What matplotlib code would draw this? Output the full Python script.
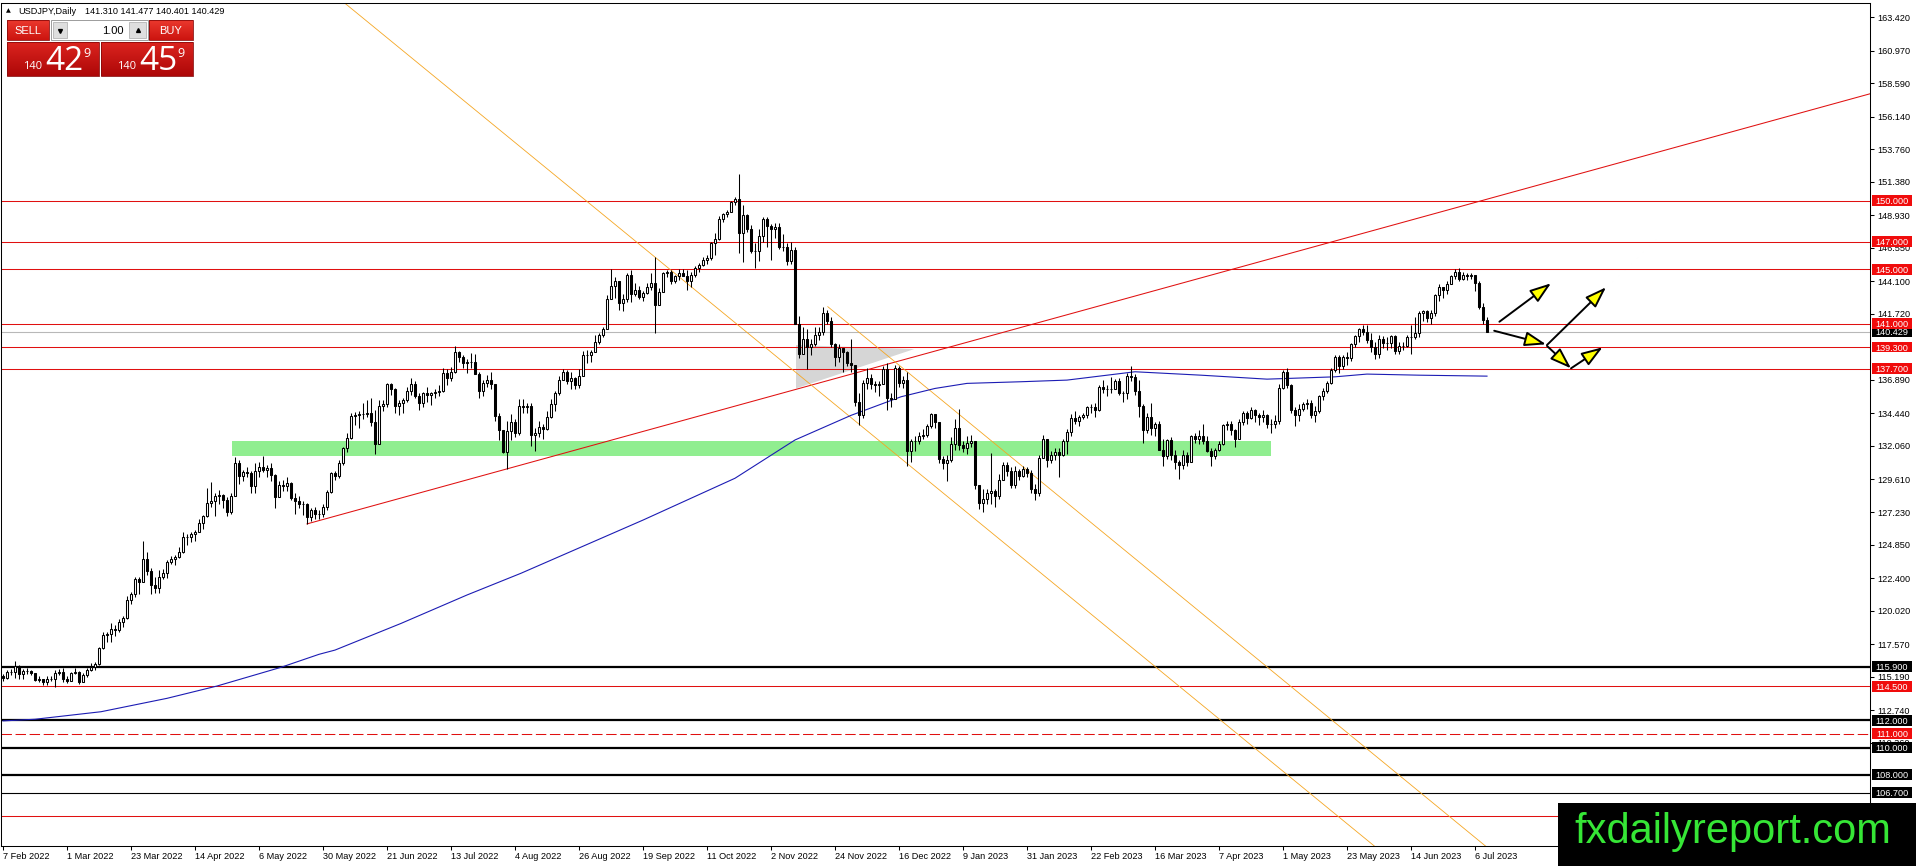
import matplotlib
matplotlib.use("Agg")
import matplotlib.pyplot as plt
from matplotlib.patches import Rectangle, Polygon
import numpy as np

plt.rcParams['font.family'] = ['Liberation Sans', 'DejaVu Sans']

# ---- data (USDJPY daily, one line per week) ----
symbol = "USDJPY,Daily"
first_open = 115.25
closes = [
    115.09, 115.55, 115.52, 116.00, 115.41,
    115.57, 115.58, 115.45, 114.92, 115.00,
    114.76, 115.00, 115.05, 115.48, 115.55,
    114.98, 114.90, 115.48, 115.54, 114.80,
    115.30, 115.65, 115.88, 116.10, 117.30,
    118.20, 118.30, 118.70, 118.60, 119.20,
    119.50, 120.80, 121.20, 122.35, 122.10,
    123.80, 122.90, 121.90, 121.70, 122.50,
    122.80, 123.60, 123.80, 123.95, 124.30,
    125.40, 125.40, 125.60, 125.80, 126.40,
    126.95, 127.90, 128.00, 128.40, 128.50,
    128.10, 127.20, 128.40, 130.80, 129.85,
    130.15, 130.10, 129.10, 130.20, 130.55,
    130.30, 130.45, 129.95, 128.30, 129.20,
    129.15, 129.35, 128.25, 128.00, 127.85,
    127.80, 126.90, 127.35, 127.10, 127.10,
    127.60, 128.70, 130.05, 129.85, 130.85,
    131.90, 132.65, 134.25, 134.35, 134.40,
    134.40, 134.45, 133.80, 132.20, 135.00,
    135.10, 136.60, 136.25, 134.95, 135.20,
    135.45, 136.10, 136.60, 135.70, 135.20,
    135.90, 135.80, 135.90, 136.00, 136.10,
    137.40, 137.00, 137.45, 138.95, 138.55,
    138.15, 138.20, 138.20, 137.35, 136.10,
    136.70, 136.90, 136.60, 134.25, 133.20,
    131.60, 133.15, 133.80, 133.00, 135.00,
    134.90, 135.00, 132.90, 133.00, 133.45,
    133.30, 134.20, 135.10, 135.90, 136.90,
    137.50, 136.80, 137.00, 136.55, 137.20,
    138.75, 138.75, 138.95, 139.65, 140.20,
    140.60, 142.80, 143.80, 144.10, 142.55,
    142.80, 144.60, 143.20, 143.50, 142.95,
    143.25, 143.70, 144.00, 142.40, 143.35,
    144.75, 144.80, 144.15, 144.50, 144.70,
    144.50, 144.10, 144.55, 145.10, 145.30,
    145.70, 145.80, 146.90, 147.20, 148.70,
    149.05, 149.20, 149.90, 150.15, 147.65,
    148.95, 147.95, 146.35, 146.30, 147.45,
    148.70, 148.15, 147.90, 148.10, 146.60,
    146.60, 145.60, 146.40, 141.00, 138.80,
    139.90, 139.30, 139.50, 140.20, 140.40,
    141.80, 141.20, 139.50, 138.60, 139.20,
    138.90, 138.10, 138.00, 135.30, 134.30,
    136.70, 137.00, 136.60, 136.50, 136.60,
    137.70, 135.60, 135.50, 137.75, 136.70,
    136.90, 131.70, 132.40, 132.40, 132.80,
    132.90, 133.50, 134.40, 133.80, 131.10,
    130.80, 131.00, 132.20, 133.40, 132.10,
    131.90, 132.30, 132.45, 129.20, 127.90,
    128.20, 128.60, 128.80, 128.40, 129.60,
    130.70, 130.20, 129.20, 130.20, 129.90,
    130.40, 130.10, 128.90, 128.60, 131.20,
    132.60, 131.00, 131.40, 131.60, 131.40,
    132.40, 133.10, 134.10, 133.90, 134.20,
    134.30, 134.90, 134.90, 134.70, 136.40,
    136.20, 136.20, 136.20, 136.80, 135.90,
    135.90, 137.20, 137.10, 136.10, 135.00,
    133.20, 134.20, 133.40, 133.70, 131.80,
    131.30, 132.50, 131.40, 130.90, 130.70,
    131.40, 130.90, 132.80, 132.60, 132.80,
    132.40, 131.70, 131.30, 131.80, 132.20,
    133.60, 133.70, 133.20, 132.60, 133.80,
    134.50, 134.10, 134.70, 134.30, 134.20,
    134.30, 133.70, 133.70, 133.90, 136.30,
    137.50, 136.50, 134.70, 134.30, 134.80,
    135.10, 135.20, 134.30, 134.60, 135.70,
    136.10, 136.70, 137.60, 138.60, 137.90,
    138.60, 138.50, 139.50, 140.10, 140.60,
    140.40, 139.80, 139.30, 138.80, 139.90,
    139.60, 139.60, 140.10, 139.00, 139.40,
    139.40, 140.00, 140.00, 140.30, 141.80,
    141.90, 141.40, 141.80, 143.10, 143.70,
    143.50, 143.90, 144.50, 144.80, 144.30,
    144.60, 144.50, 144.60, 144.00, 142.20,
    141.31, 140.429,
]
highs = [
    115.35, 115.65, 115.75, 116.34, 116.05,
    115.75, 115.80, 115.70, 115.40, 115.20,
    115.05, 115.25, 115.20, 115.70, 115.75,
    115.80, 115.20, 115.55, 115.80, 115.60,
    115.45, 115.80, 116.20, 116.25, 117.35,
    118.45, 118.45, 119.10, 119.00, 119.40,
    119.60, 121.05, 121.40, 122.45, 122.45,
    125.10, 124.30, 123.10, 122.45, 123.00,
    123.05, 123.70, 124.00, 124.05, 124.70,
    125.80, 125.60, 125.75, 125.90, 126.70,
    127.00, 129.00, 129.40, 128.60, 128.85,
    128.55, 128.30, 128.60, 131.25, 131.00,
    130.30, 130.50, 130.20, 130.80, 130.90,
    131.35, 130.70, 130.80, 130.00, 129.50,
    129.55, 129.80, 129.45, 128.60, 128.40,
    128.00, 127.90, 127.50, 127.60, 127.35,
    127.80, 128.85, 130.15, 130.25, 131.00,
    132.00, 133.00, 134.45, 134.55, 134.60,
    135.20, 135.45, 135.60, 134.70, 135.45,
    135.40, 136.70, 136.70, 136.30, 135.40,
    135.55, 136.40, 137.00, 136.80, 135.90,
    136.00, 136.40, 136.00, 136.20, 136.55,
    137.75, 137.70, 137.85, 139.38, 139.00,
    138.70, 138.40, 138.85, 138.80, 137.50,
    136.90, 137.25, 137.45, 136.60, 134.50,
    133.00, 133.90, 134.40, 134.00, 135.50,
    135.50, 135.20, 135.20, 133.40, 133.90,
    133.65, 134.60, 135.50, 136.10, 137.20,
    137.70, 137.60, 137.45, 137.10, 137.70,
    139.00, 139.05, 139.10, 140.20, 140.35,
    140.80, 143.10, 144.99, 144.40, 143.90,
    143.20, 144.75, 144.90, 144.00, 143.80,
    143.40, 144.00, 144.70, 145.90, 143.60,
    144.80, 144.90, 144.90, 144.60, 145.00,
    145.00, 144.90, 144.80, 145.20, 145.45,
    145.90, 146.00, 147.00, 147.65, 148.85,
    149.10, 149.30, 150.00, 150.30, 151.94,
    149.70, 149.00, 148.20, 146.90, 147.90,
    148.80, 148.80, 148.30, 148.40, 148.40,
    147.60, 146.90, 147.00, 146.60, 141.60,
    140.80, 140.60, 139.90, 140.80, 140.80,
    142.25, 142.00, 141.50, 139.60, 139.50,
    139.10, 139.00, 139.90, 138.00, 135.95,
    136.90, 137.80, 137.30, 136.80, 136.80,
    137.90, 138.10, 135.90, 138.00, 137.90,
    137.20, 137.50, 132.60, 132.80, 133.05,
    133.30, 133.70, 134.50, 134.40, 133.20,
    131.30, 131.40, 132.70, 134.00, 134.80,
    132.40, 132.80, 132.90, 132.45, 129.20,
    128.90, 128.90, 131.55, 128.95, 130.00,
    130.90, 130.90, 130.50, 130.60, 130.40,
    130.60, 130.50, 130.30, 129.30, 131.40,
    132.90, 132.60, 131.70, 131.90, 131.90,
    132.60, 133.30, 134.40, 134.60, 134.30,
    134.50, 135.00, 135.10, 135.20, 136.50,
    136.90, 136.50, 137.10, 136.95, 137.00,
    136.10, 137.40, 137.91, 137.30, 136.90,
    135.10, 134.50, 135.20, 133.80, 133.90,
    132.60, 132.60, 132.70, 131.80, 131.00,
    131.80, 131.60, 132.90, 133.00, 133.20,
    133.70, 132.80, 131.90, 131.90, 132.40,
    133.70, 133.90, 133.90, 133.30, 134.00,
    134.60, 134.60, 134.90, 134.80, 134.50,
    134.70, 134.40, 134.00, 134.30, 136.60,
    137.60, 137.77, 136.60, 134.90, 135.10,
    135.30, 135.50, 135.40, 135.00, 135.80,
    136.30, 136.80, 137.80, 138.70, 138.75,
    138.70, 138.90, 139.60, 140.20, 140.70,
    140.90, 140.93, 140.30, 139.70, 140.20,
    140.10, 140.00, 140.20, 140.20, 139.70,
    139.70, 140.20, 140.90, 141.50, 141.90,
    142.00, 142.00, 142.00, 143.20, 143.90,
    143.70, 144.10, 144.60, 145.00, 145.07,
    144.80, 144.70, 144.70, 144.60, 144.10,
    142.50, 141.477,
]
lows = [
    114.85, 115.05, 115.30, 115.10, 115.05,
    115.00, 115.35, 115.30, 114.85, 114.80,
    114.60, 114.55, 114.85, 114.41, 115.30,
    114.80, 114.70, 114.85, 115.40, 114.65,
    114.80, 115.15, 115.60, 115.70, 116.05,
    117.20, 117.70, 117.70, 118.15, 118.45,
    118.80, 119.40, 120.50, 121.00, 121.20,
    122.20, 122.60, 121.20, 121.30, 121.30,
    122.30, 122.40, 123.40, 123.35, 123.90,
    124.20, 124.80, 125.00, 125.10, 125.80,
    126.00, 126.90, 127.60, 126.95, 127.80,
    127.50, 126.95, 127.10, 128.40, 129.30,
    129.50, 129.80, 128.60, 128.65, 129.80,
    130.15, 129.80, 129.50, 127.50, 128.50,
    128.80, 128.80, 128.10, 127.05, 127.50,
    127.00, 126.36, 126.60, 126.70, 126.70,
    126.90, 127.40, 128.60, 129.55, 129.75,
    130.70, 131.60, 132.60, 133.60, 133.40,
    134.00, 134.20, 133.50, 131.50, 132.20,
    134.65, 134.90, 135.80, 134.50, 134.30,
    134.50, 135.30, 135.80, 135.60, 134.70,
    134.90, 135.30, 135.05, 135.60, 135.70,
    136.00, 136.50, 136.80, 137.40, 138.20,
    137.80, 137.40, 137.80, 137.30, 135.60,
    135.70, 136.40, 136.20, 133.90, 132.50,
    131.55, 130.40, 132.50, 132.70, 132.90,
    134.50, 134.50, 132.05, 131.70, 132.70,
    132.55, 133.20, 134.10, 134.65, 135.80,
    136.90, 136.60, 136.20, 136.25, 136.30,
    137.70, 138.10, 138.20, 138.90, 139.50,
    140.00, 140.60, 142.90, 142.90, 142.00,
    141.95, 142.60, 142.60, 143.00, 142.80,
    142.70, 143.20, 143.50, 140.35, 142.40,
    143.30, 144.40, 143.90, 144.00, 144.20,
    144.50, 143.50, 143.70, 144.40, 144.80,
    145.20, 145.40, 145.70, 146.00, 147.10,
    148.45, 148.80, 149.20, 149.70, 146.20,
    145.50, 147.70, 146.20, 145.10, 145.60,
    147.00, 146.60, 145.70, 147.30, 146.50,
    146.30, 145.30, 145.40, 140.95, 138.50,
    138.90, 137.70, 138.70, 139.40, 139.80,
    140.20, 140.95, 139.30, 137.90, 138.20,
    137.50, 137.90, 137.50, 135.00, 133.62,
    134.10, 136.20, 136.20, 136.00, 135.70,
    136.60, 134.70, 134.90, 135.50, 136.40,
    136.30, 130.58, 130.90, 131.70, 132.20,
    132.60, 132.70, 133.40, 133.40, 130.80,
    130.40, 129.50, 130.90, 131.80, 131.80,
    131.60, 131.50, 132.00, 128.90, 127.45,
    127.22, 127.80, 127.80, 127.60, 128.20,
    129.60, 129.90, 129.00, 129.00, 129.60,
    129.80, 129.80, 128.60, 128.10, 128.40,
    131.20, 130.50, 130.80, 131.00, 129.80,
    131.30, 131.50, 132.80, 133.70, 133.50,
    134.00, 134.10, 134.50, 134.20, 134.60,
    135.90, 135.70, 135.90, 136.20, 135.80,
    135.30, 135.50, 136.80, 135.80, 134.20,
    132.30, 133.00, 132.90, 132.80, 131.80,
    130.60, 131.10, 131.00, 130.40, 129.64,
    130.40, 130.60, 130.90, 132.30, 132.20,
    132.20, 131.60, 130.60, 131.10, 131.70,
    132.10, 133.20, 132.90, 132.00, 132.60,
    133.60, 133.70, 134.00, 133.80, 133.60,
    133.80, 133.40, 133.00, 133.40, 133.70,
    136.20, 136.30, 134.50, 133.50, 133.90,
    134.60, 134.80, 134.10, 133.80, 134.50,
    135.40, 135.90, 136.60, 137.50, 137.40,
    137.70, 138.00, 138.30, 139.30, 139.70,
    140.20, 139.60, 138.90, 138.40, 138.50,
    139.20, 139.10, 139.20, 138.80, 138.80,
    139.10, 139.30, 138.80, 139.90, 140.00,
    141.20, 141.10, 141.00, 141.60, 142.70,
    142.90, 143.20, 143.90, 144.30, 144.10,
    144.20, 144.20, 144.30, 143.40, 142.10,
    141.00, 140.401,
]

# 200-day moving average, read at points along the blue curve (bar index, price)
ma_bar = [0, 8, 24.5, 41, 53.5, 69.5, 79, 83, 99.5, 116, 129.5, 160, 183, 198,
          212, 224.5, 233, 241, 254.5, 266, 283, 299.5, 316, 333, 341, 354, 371]
ma_val = [111.95, 112.07, 112.62, 113.60, 114.50, 115.87, 116.82, 117.13, 119.08,
          121.16, 122.75, 126.64, 129.70, 132.50, 134.30, 135.66, 136.27, 136.64,
          136.76, 136.88, 137.49, 137.24, 136.95, 137.12, 137.32, 137.24, 137.17]

# horizontal levels
red_levels = [150.0, 147.0, 145.0, 141.0, 139.3, 137.7, 114.5]
red_levels_unlabelled = [105.0]
red_dashed_levels = [111.0]
black_thick_levels = [115.9, 112.0, 110.0, 108.0]
black_thin_levels = [106.7]

# drawn objects (bar index, price)
support_zone = (57.25, 317.0, 131.35, 132.42)
gray_triangle = [(198.25, 139.44), (198.25, 136.27), (227.8, 139.15)]
trend_up = [(76.0, 126.36), (370.2, 150.05)]
channel_a = [(130.3, 153.71), (242.8, 126.76)]
channel_b = [(206.2, 142.25), (254.5, 130.66)]
arrows = [
    (374.1, 141.15, 387.0, 143.96),
    (372.8, 140.49, 385.75, 139.50),
    (386.0, 139.45, 400.75, 143.67),
    (386.0, 139.38, 392.0, 137.74),
    (392.0, 137.74, 399.9, 139.28),
]

ytick_vals = [163.42, 160.97, 158.59, 156.14, 153.76, 151.38, 148.93, 146.55, 144.10,
              141.72, 136.89, 134.44, 132.06, 129.61, 127.23, 124.85, 122.40,
              120.02, 117.57, 115.19, 112.74, 110.36]
xtick_labels = ["7 Feb 2022", "1 Mar 2022", "23 Mar 2022", "14 Apr 2022", "6 May 2022",
                "30 May 2022", "21 Jun 2022", "13 Jul 2022", "4 Aug 2022", "26 Aug 2022",
                "19 Sep 2022", "11 Oct 2022", "2 Nov 2022", "24 Nov 2022", "16 Dec 2022",
                "9 Jan 2023", "31 Jan 2023", "22 Feb 2023", "16 Mar 2023", "7 Apr 2023",
                "1 May 2023", "23 May 2023", "14 Jun 2023", "6 Jul 2023"]
bars_per_label = 16
bid, ask = 140.429, 140.459
lot = "1.00"
watermark = "fxdailyreport.com"

# ---- figure ----
W, H = 1916, 866
fig = plt.figure(figsize=(W / 100, H / 100), dpi=100)
fig.patch.set_facecolor('white')
ax = fig.add_axes([1 / W, 20 / H, 1869 / W, 843 / H])
ax.set_xlim(-0.5, 466.75)
ax.set_ylim(102.798, 164.466)

closes = np.array(closes)
highs = np.array(highs)
lows = np.array(lows)
n = len(closes)
idx = np.arange(n)
opens = np.r_[first_open, closes[:-1]]
up = closes >= opens

# zone + triangle in the background
x0, x1, y0, y1 = support_zone
ax.add_patch(Rectangle((x0, y0), x1 - x0, y1 - y0, fc='#90ee90', ec='none', zorder=1))
ax.add_patch(Polygon(gray_triangle, closed=True, fc='#d6d6d6', ec='none', zorder=1))

# levels
for v in red_levels + red_levels_unlabelled:
    ax.axhline(v, color='#e01010', lw=0.75, zorder=2)
for v in red_dashed_levels:
    ax.axhline(v, color='#e01010', lw=0.75, dashes=(10, 3.5), zorder=2)
for v in black_thick_levels:
    ax.axhline(v, color='black', lw=1.6, zorder=2)
for v in black_thin_levels:
    ax.axhline(v, color='black', lw=0.8, zorder=2)
ax.axhline(closes[-1], color='#b8b8b8', lw=0.8, zorder=2)

# trend lines
(ax_, ay_), (bx_, by_) = trend_up
slope = (by_ - ay_) / (bx_ - ax_)
ax.plot([ax_, 500], [ay_, ay_ + slope * (500 - ax_)], color='#e01010', lw=0.75, zorder=2)
ax.axline(channel_a[0], channel_a[1], color='#f5a623', lw=0.6, zorder=2)
(cx_, cy_), (dx_, dy_) = channel_b
slope_b = (dy_ - cy_) / (dx_ - cx_)
ax.plot([cx_, 500], [cy_, cy_ + slope_b * (500 - cx_)], color='#f5a623', lw=0.6, zorder=2)

# moving average
ax.plot(ma_bar, ma_val, color='#1c1cb4', lw=0.8, zorder=2.5)

# candles
body_lo = np.minimum(opens, closes)
body_hi = np.maximum(opens, closes)
ax.vlines(idx, np.minimum(lows, body_lo), np.maximum(highs, body_hi),
          color='black', lw=0.75, zorder=3)
ax.bar(idx, body_hi - body_lo, bottom=body_lo, width=0.6,
       color=np.where(up, 'white', 'black'), edgecolor='black', linewidth=0.75, zorder=4)

# arrows
for xa, ya, xb, yb in arrows:
    ax.annotate('', xy=(xb, yb), xytext=(xa, ya), zorder=8,
                arrowprops=dict(arrowstyle='-|>,head_length=1.3,head_width=0.45',
                                mutation_scale=10, fc='yellow', ec='black', lw=1.4,
                                shrinkA=0, shrinkB=0))

# axes styling
for s in ax.spines.values():
    s.set_color('black')
    s.set_linewidth(0.75)
ax.yaxis.tick_right()
ax.set_yticks(ytick_vals, [f'{v:.3f}' for v in ytick_vals])
ax.set_xticks(idx[::bars_per_label][:len(xtick_labels)], xtick_labels, ha='left')
ax.tick_params(axis='y', direction='out', length=3, width=0.75, pad=2, labelsize=6.6)
ax.tick_params(axis='x', direction='out', length=3, width=0.75, pad=1.5, labelsize=6.6)

# right-hand price boxes
tr = ax.get_yaxis_transform()


def price_box(v, fc, z):
    ax.add_patch(Rectangle((1.0011, v - 0.40), 0.0214, 0.80, transform=tr, fc=fc,
                           ec='none', clip_on=False, zorder=z))
    ax.text(1.0118, v, f'{v:.3f}', transform=tr, color='white', fontsize=6.6,
            ha='center', va='center_baseline', clip_on=False, zorder=z + 0.5)


price_box(closes[-1], 'black', 6)
for v in red_levels + red_dashed_levels:
    price_box(v, '#f00c0c', 7)
for v in black_thick_levels + black_thin_levels:
    price_box(v, 'black', 7)

# header line
fig.text(6 / W, 1 - 11 / H, '\u25b2', fontsize=4.5, family='DejaVu Sans', va='center')
fig.text(18 / W, 1 - 11 / H, symbol, fontsize=6.6, va='center')
fig.text(85 / W, 1 - 11 / H,
         f'{opens[-1]:.3f} {highs[-1]:.3f} {lows[-1]:.3f} {closes[-1]:.3f}',
         fontsize=6.6, va='center')

# one-click trading panel (pixel coords, y down)
pax = fig.add_axes([0, 1 - 90 / H, 200 / W, 90 / H], zorder=5)
pax.patch.set_visible(False)
pax.axis('off')


def grad_box(x0, y0, x1, y1, top, bot):
    t = np.linspace(0, 1, 32)[:, None, None]
    img = (1 - t) * np.array(top) + t * np.array(bot)
    pax.imshow(img, extent=(x0, x1, y1, y0), aspect='auto', interpolation='bilinear', zorder=1)
    pax.add_patch(Rectangle((x0, y0), x1 - x0, y1 - y0, fc='none', ec='#8a0a0a', lw=0.6, zorder=2))


grad_box(7, 20, 49, 40, (0.92, 0.22, 0.18), (0.80, 0.08, 0.06))
grad_box(149, 20, 193, 40, (0.92, 0.22, 0.18), (0.80, 0.08, 0.06))
grad_box(7, 42, 99, 76, (0.86, 0.14, 0.12), (0.68, 0.03, 0.03))
grad_box(101, 42, 193, 76, (0.86, 0.14, 0.12), (0.68, 0.03, 0.03))
pax.add_patch(Rectangle((51, 20), 97, 20, fc='white', ec='#9c9c9c', lw=0.7, zorder=2))
pax.add_patch(Rectangle((53, 22), 14, 16, fc='#dedede', ec='#b4b4b4', lw=0.6, zorder=3))
pax.add_patch(Rectangle((129, 22), 17, 16, fc='#dedede', ec='#b4b4b4', lw=0.6, zorder=3))
pax.plot([60], [30.5], marker='v', ms=2.8, color='black', zorder=4)
pax.plot([137.5], [30], marker='^', ms=2.8, color='black', zorder=4)
pax.text(124, 30.5, lot, fontsize=8, ha='right', va='center', color='black', zorder=4)
pax.text(28, 30.5, 'SELL', fontsize=8, ha='center', va='center', color='white', zorder=4)
pax.text(171, 30.5, 'BUY', fontsize=8, ha='center', va='center', color='white', zorder=4)
for px, price in ((7, bid), (101, ask)):
    s = f'{price:.3f}'
    pax.text(px + 16, 69, s[:3], fontsize=8, ha='left', va='baseline', color='white',
             family='Open Sans', zorder=4)
    pax.text(px + 38, 70.5, s[4:6], fontsize=24, ha='left', va='baseline', color='white',
             family='Open Sans', zorder=4)
    pax.text(px + 76, 57, s[6], fontsize=9, ha='left', va='baseline', color='white',
             family='Open Sans', zorder=4)
pax.set_xlim(0, 200)
pax.set_ylim(90, 0)

# watermark
fig.add_artist(Rectangle((1558 / W, 0), (W - 1558) / W, 63 / H, transform=fig.transFigure,
                         fc='black', ec='none', zorder=20))
fig.text(1574 / W, 23 / H, watermark, color='#36e636', fontsize=30, va='baseline',
         ha='left', zorder=21)

fig.savefig('out.png', dpi=100, facecolor='white')
